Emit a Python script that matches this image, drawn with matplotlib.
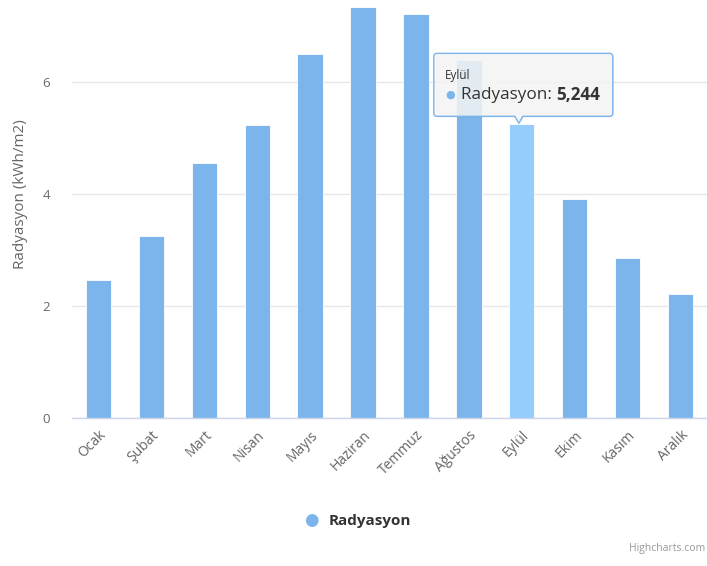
import matplotlib.pyplot as plt
import numpy as np
from matplotlib.patches import Polygon

# Monthly radiation values (kWh/m2)
months = ["Ocak", "Şubat", "Mart", "Nisan", "Mayıs", "Haziran",
          "Temmuz", "Ağustos", "Eylül", "Ekim", "Kasım", "Aralık"]
radiation = [2.46, 3.25, 4.55, 5.23, 6.50, 7.34, 7.21, 6.39, 5.244, 3.91, 2.86, 2.21]
y_ticks = [0, 2, 4, 6]
hover_index = 8

plt.rcParams["font.family"] = ["Open Sans", "DejaVu Sans"]

W, H = 707, 566
fig = plt.figure(figsize=(W / 100, H / 100), dpi=100)
# plot area runs past the top edge of the canvas (axis max 8)
ax = fig.add_axes([72 / W, (H - 418) / H, 635 / W, 448 / H])

x = np.arange(len(months))
colors = ["#7cb5ec"] * len(months)
colors[hover_index] = "#95cdfc"
ax.bar(x, radiation, width=0.48, color=colors, edgecolor="white", linewidth=0.6, zorder=2)

ax.set_xlim(-0.5, len(months) - 0.5)
ax.set_ylim(0, 8)
ax.set_yticks(y_ticks)
ax.set_yticklabels([str(t) for t in y_ticks], color="#666666", fontsize=9.5)
ax.yaxis.grid(True, color="#e6e6e6", linewidth=1, zorder=0)
ax.set_axisbelow(True)
ax.tick_params(axis="y", length=0, pad=16)
ax.tick_params(axis="x", length=0, pad=7)
ax.set_xticks(x)
ax.set_xticklabels(months, rotation=45, ha="right", rotation_mode="anchor",
                   color="#666666", fontsize=10)

for side in ["top", "right", "left"]:
    ax.spines[side].set_visible(False)
ax.spines["bottom"].set_color("#ccd6eb")
ax.spines["bottom"].set_linewidth(1)

ax.set_ylabel("Radyasyon (kWh/m2)", color="#666666", fontsize=11, labelpad=10)

# Tooltip anchored to the hovered column, drawn in pixel space
fig.canvas.draw()
px, py = ax.transData.transform((hover_index, radiation[hover_index]))
left, right = px - 88, px + 91
top, bottom = py + 71, py + 8
r = 3
verts = []
for cx, cy, a0 in [(right - r, top - r, 0), (left + r, top - r, 90),
                   (left + r, bottom + r, 180), (right - r, bottom + r, 270)]:
    for a in np.linspace(a0, a0 + 90, 6):
        verts.append((cx + r * np.cos(np.radians(a)), cy + r * np.sin(np.radians(a))))
    if a0 == 180:
        verts += [(px - 7, bottom), (px - 3, py + 1), (px + 1, bottom)]
shadow = Polygon([(vx + 1, vy - 1) for vx, vy in verts], closed=True, transform=None,
                 facecolor="#000000", alpha=0.08, edgecolor="none", zorder=5)
box = Polygon(verts, closed=True, transform=None, facecolor=(0.97, 0.97, 0.97, 0.85),
              edgecolor="#7cb5ec", linewidth=1, zorder=6)
fig.add_artist(shadow)
fig.add_artist(box)

fig.text((left + 11) / W, (top - 22) / H, months[hover_index], fontsize=8.5,
         color="#333333", va="center", zorder=7)
fig.text((left + 16) / W, (top - 42) / H, "●", fontsize=8, color="#7cb5ec",
         ha="center", va="center", zorder=7)
lbl = fig.text((left + 27) / W, (top - 42) / H, "Radyasyon: ", fontsize=12.3,
               color="#333333", va="center", zorder=7)
fig.canvas.draw()
bb = lbl.get_window_extent()
fig.text(bb.x1 / W, (top - 42) / H, f"{radiation[hover_index]:.3f}".replace(".", ","),
         fontsize=12.3, fontweight="bold", color="#333333", va="center", zorder=7)

# Legend and credits
fig.text(311 / W, (H - 521) / H, "●", fontsize=12, color="#7cb5ec",
         ha="center", va="center")
fig.text(329 / W, (H - 521) / H, "Radyasyon", fontsize=11, fontweight="bold",
         color="#333333", va="center")
fig.text(705 / W, (H - 549) / H, "Highcharts.com", fontsize=7.5, color="#999999",
         ha="right", va="center")

fig.savefig("out.png", dpi=100)
